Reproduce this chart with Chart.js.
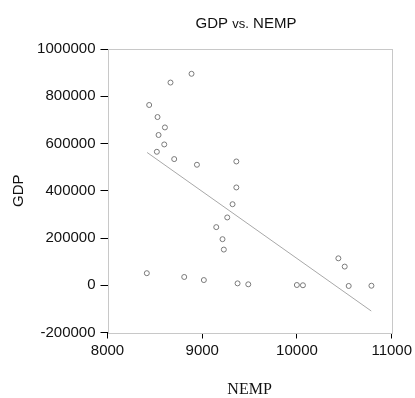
<!DOCTYPE html>
<html>
<head>
<meta charset="utf-8">
<script src="https://cdn.jsdelivr.net/npm/chart.js@4"></script>
<style>
  html, body { margin: 0; padding: 0; background: #fff; }
  #wrap { width: 415px; height: 398px; }
</style>
</head>
<body>
<div id="wrap"><canvas id="chart" width="415" height="398"></canvas></div>
<script>
// observed points (NEMP, GDP)
const nemp = [8887, 8665, 8440, 8528, 8606, 8539, 8599, 8521, 8704, 8944, 9360, 9360, 9320, 9264,
              9148, 9214, 9228, 10437, 10504, 8415, 8810, 9017, 9373, 9486, 9999, 10063, 10546, 10786];
const gdp = [895000, 858000, 763000, 712000, 668000, 636000, 596000, 565000, 534000, 510000, 524000,
             414000, 343000, 287000, 246000, 195000, 151000, 114000, 79000, 51000, 35000, 22000,
             8000, 4000, 1000, 0, -3000, -2000];

// fitted line end points
const fitX = [8418, 10784];
const fitY = [562000, -109000];

// axis ticks
const xTicks = [8000, 9000, 10000, 11000];
const yTicks = [-200000, 0, 200000, 400000, 600000, 800000, 1000000];

const sans = "'Liberation Sans', Arial, sans-serif";

// title with a smaller "vs." plus light frame round the plot
const decor = {
    id: 'decor',
    afterDraw(chart) {
        const ctx = chart.ctx;
        const a = chart.chartArea;
        ctx.save();
        ctx.strokeStyle = '#c8c8c8';
        ctx.lineWidth = 1;
        ctx.strokeRect(Math.round(a.left) + 0.5, Math.round(a.top) + 0.5,
            Math.round(a.right - a.left), Math.round(a.bottom - a.top));

        const parts = [['GDP ', '15px ' + sans], ['vs.', '13px ' + sans], [' NEMP', '15px ' + sans]];
        let total = 0;
        parts.forEach(p => { ctx.font = p[1]; total += ctx.measureText(p[0]).width; });
        let x = 246 - total / 2;
        ctx.fillStyle = '#111';
        ctx.textBaseline = 'alphabetic';
        ctx.textAlign = 'left';
        parts.forEach(p => {
            ctx.font = p[1];
            ctx.fillText(p[0], x, 28);
            x += ctx.measureText(p[0]).width;
        });
        ctx.restore();
    }
};

new Chart('chart', {
    type: 'scatter',
    data: {
        datasets: [{
            data: nemp.map((v, i) => ({ x: v, y: gdp[i] })),
            pointRadius: 2.5,
            pointBorderWidth: 1,
            borderColor: '#7a7a7a',
            backgroundColor: 'rgba(0,0,0,0)',
            showLine: false
        }, {
            data: fitX.map((v, i) => ({ x: v, y: fitY[i] })),
            showLine: true,
            pointRadius: 0,
            borderWidth: 1,
            borderColor: '#a8a8a8'
        }]
    },
    options: {
        responsive: false,
        animation: false,
        layout: { padding: { top: 49, right: 23, left: 0, bottom: 0 } },
        plugins: {
            legend: { display: false },
            title: { display: false },
            tooltip: { enabled: false }
        },
        scales: {
            x: {
                type: 'linear',
                min: 8000,
                max: 11000,
                afterFit: s => { s.height = 65.5; },
                afterBuildTicks: s => { s.ticks = xTicks.map(v => ({ value: v })); },
                grid: { drawOnChartArea: false, tickLength: 6, tickColor: '#000' },
                border: { display: false },
                ticks: {
                    padding: 3,
                    color: '#111',
                    font: { family: sans, size: 15 },
                    callback: v => String(v)
                },
                title: {
                    display: true,
                    text: 'NEMP',
                    color: '#111',
                    font: { family: "'Liberation Serif', 'Times New Roman', serif", size: 16, lineHeight: 1 },
                    padding: { top: 0, bottom: 0 }
                }
            },
            y: {
                min: -200000,
                max: 1000000,
                afterFit: s => { s.width = 107.5; },
                afterBuildTicks: s => { s.ticks = yTicks.map(v => ({ value: v })); },
                grid: { drawOnChartArea: false, tickLength: 7, tickColor: '#000' },
                border: { display: false },
                ticks: {
                    padding: 5,
                    color: '#111',
                    font: { family: sans, size: 15 },
                    callback: v => String(v)
                },
                title: {
                    display: true,
                    text: 'GDP',
                    color: '#111',
                    font: { family: sans, size: 15, lineHeight: 1.2 },
                    padding: { top: 10, bottom: 0 }
                }
            }
        }
    },
    plugins: [decor]
});
</script>
</body>
</html>
